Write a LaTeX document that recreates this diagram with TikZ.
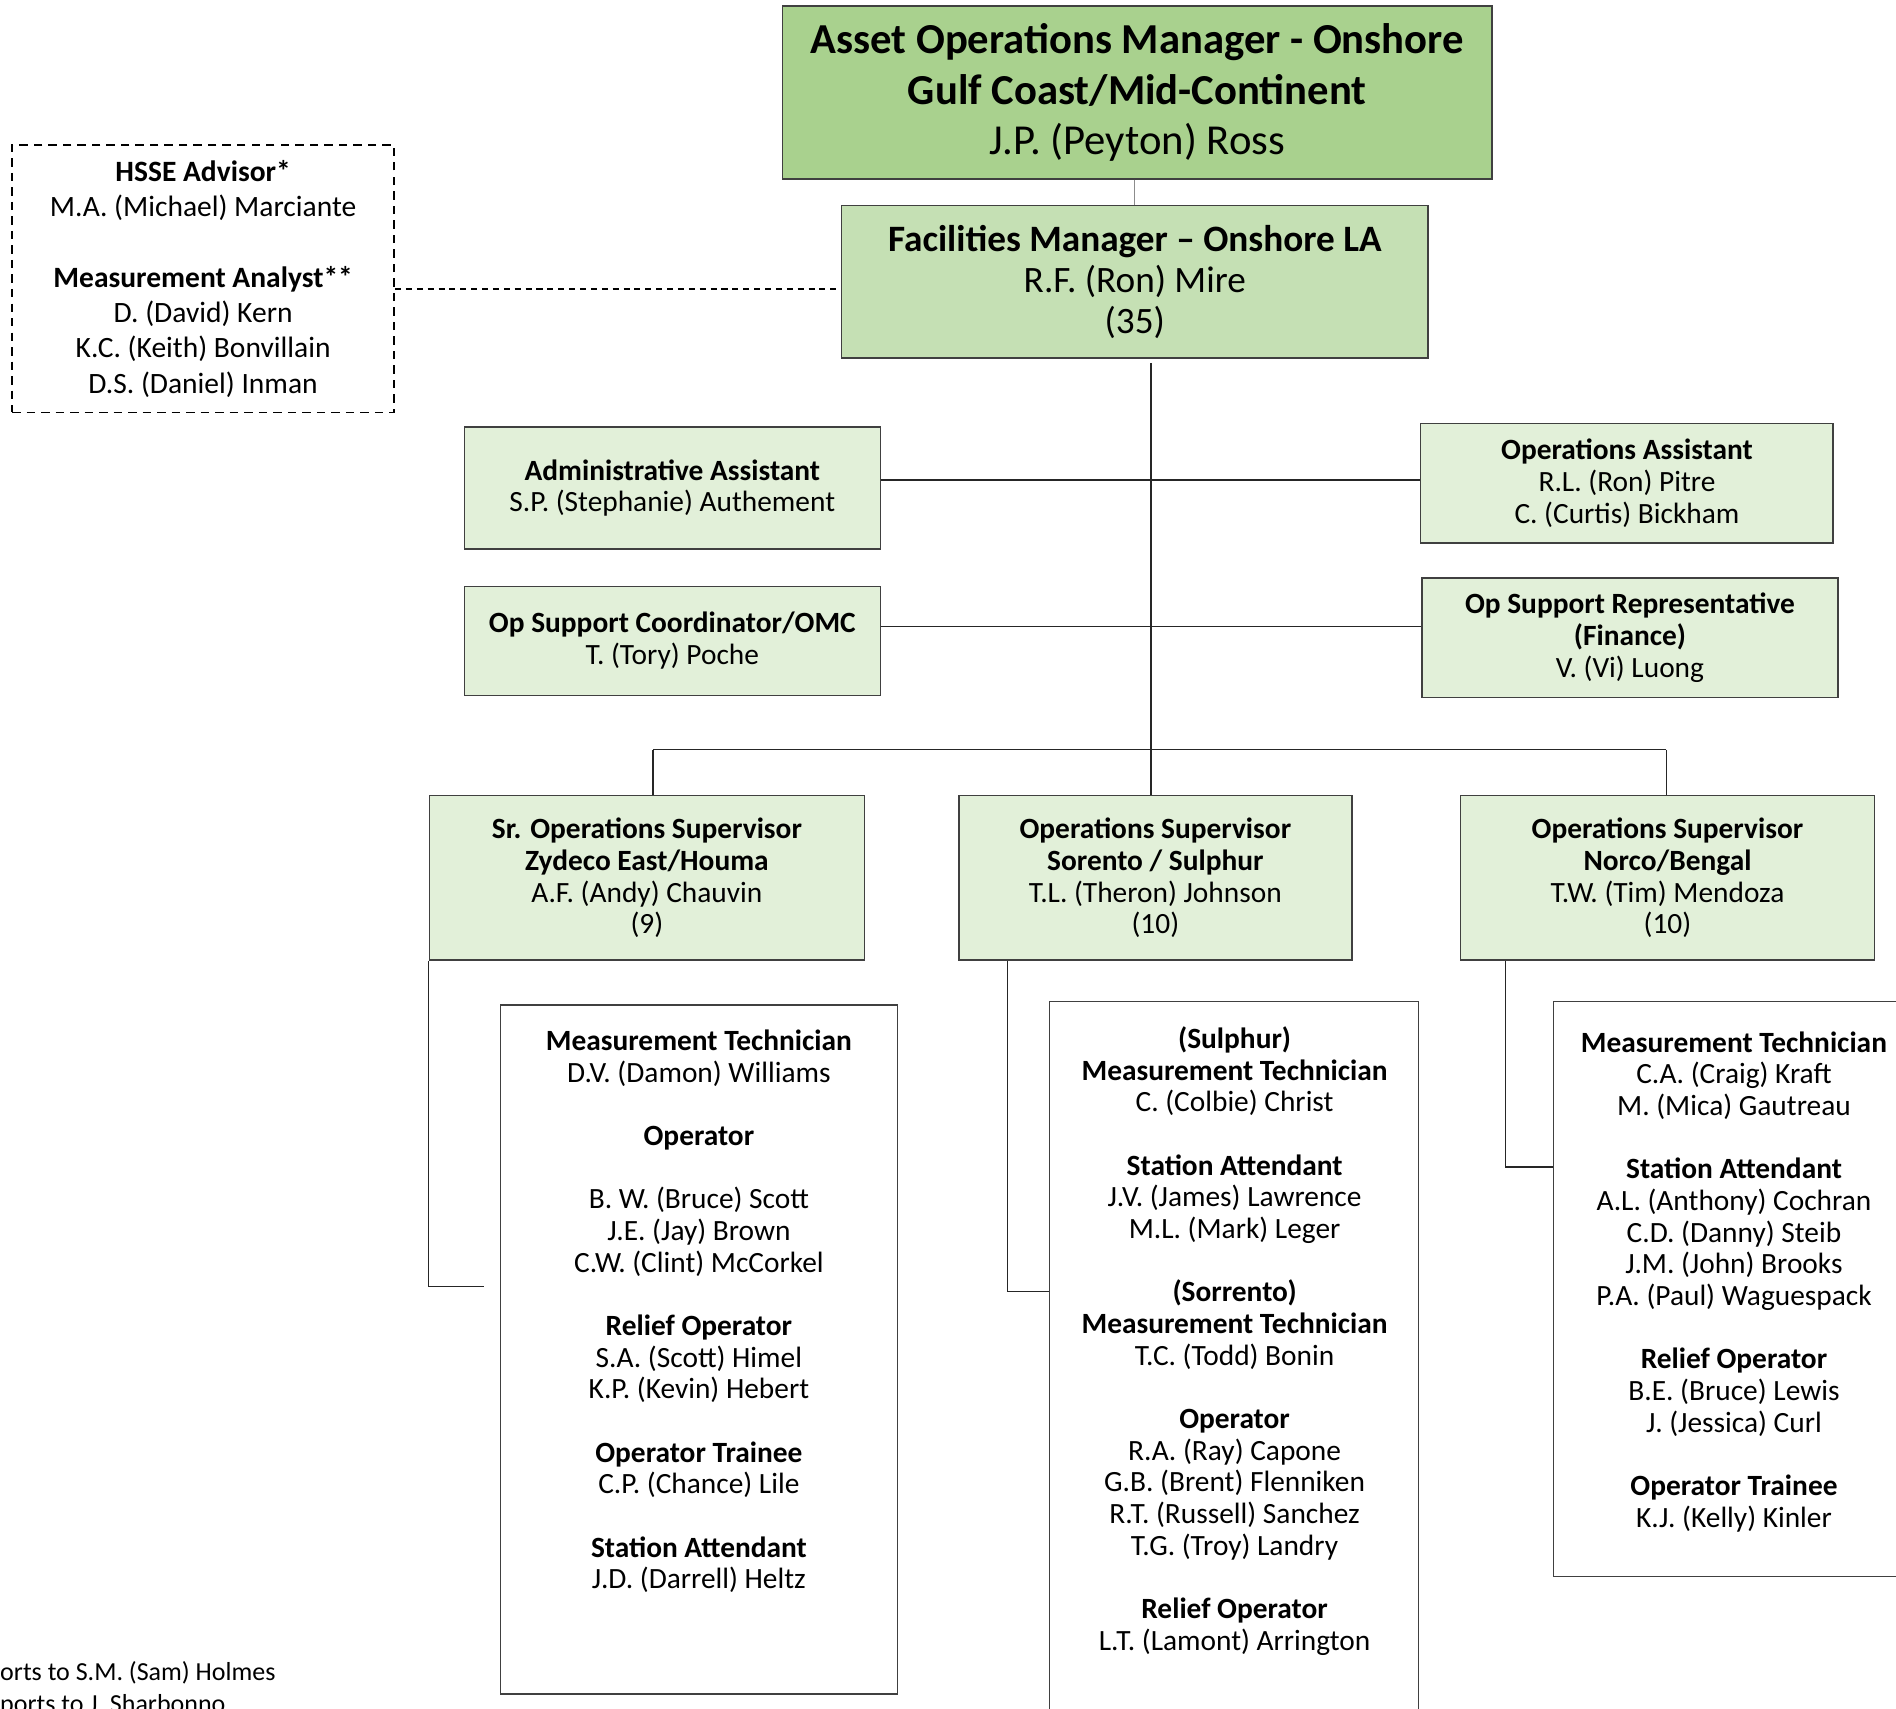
\documentclass[tikz,border=0pt]{standalone}
\usepackage{fontspec}
\setmainfont{Carlito}
\usetikzlibrary{calc}
\definecolor{gA}{HTML}{A9D18E}
\definecolor{gB}{HTML}{C5E0B4}
\definecolor{gC}{HTML}{E2F0D9}
\definecolor{bd}{HTML}{404040}
\definecolor{ln}{HTML}{262626}
\definecolor{lg}{HTML}{8C8C8C}
\newcommand{\fsBody}{\fontsize{24.3}{26.2}\selectfont}
\newcommand{\fsFoot}{\fontsize{21.5}{26.2}\selectfont}
\newcommand{\fsHsse}{\fontsize{24.4}{29.2}\selectfont}
\newcommand{\fsFm}{\fontsize{30.8}{34}\selectfont}
\newcommand{\fsAom}{\fontsize{35.3}{42}\selectfont}
\tikzset{
  box/.style={draw=bd, line width=1.1pt, inner sep=0pt, align=center},
  aombox/.style={box, fill=gA, font=\fsAom},
  fmbox/.style={box, fill=gB, font=\fsFm},
  lightbox/.style={box, fill=gC, font=\fsBody},
  teambox/.style={draw=bd, line width=1.1pt, fill=white, inner sep=0pt},
  dashbox/.style={draw=black, line width=1.3pt, dash pattern=on 7pt off 5pt, inner sep=0pt, align=center, font=\fsHsse},
  txt/.style={align=center, inner sep=0pt, font=\fsBody},
  conn/.style={draw=ln, line width=1.1pt},
  dconn/.style={draw=black, line width=1.1pt, dash pattern=on 5pt off 4pt},
}
\begin{document}
\begin{tikzpicture}[x=1pt,y=-1pt]
\useasboundingbox (0,0) rectangle (1568,1413);
\clip (0,0) rectangle (1568,1413);

% top
\node[aombox, minimum width=587pt, minimum height=143pt] (aom) at (940.5,76.5)
  {\textbf{Asset Operations Manager - Onshore}\\ \textbf{Gulf Coast/Mid-Continent}\\ J.P. (Peyton) Ross};
\node[fmbox, minimum width=485pt, minimum height=126pt] (fm) at (938.5,233)
  {\textbf{Facilities Manager – Onshore LA}\\ R.F. (Ron) Mire\\ (35)};
\node[dashbox, minimum width=316pt, minimum height=221pt] (hsse) at (168,230.5)
  {\textbf{HSSE Advisor*}\\ M.A. (Michael) Marciante\\[29.2pt] \textbf{Measurement Analyst**}\\ D. (David) Kern\\ K.C. (Keith) Bonvillain\\ D.S. (Daniel) Inman};

% staff
\node[lightbox, minimum width=344pt, minimum height=101pt] (admin) at (556,403.5)
  {\textbf{Administrative Assistant}\\ S.P. (Stephanie) Authement};
\node[lightbox, minimum width=341pt, minimum height=99pt] (opsa) at (1345.5,399.5)
  {\textbf{Operations Assistant}\\ R.L. (Ron) Pitre\\ C. (Curtis) Bickham};
\node[lightbox, minimum width=344pt, minimum height=90pt] (osc) at (556,530)
  {\textbf{Op Support Coordinator/OMC}\\ T. (Tory) Poche};
\node[lightbox, minimum width=344pt, minimum height=99pt] (osr) at (1348,527.5)
  {\textbf{Op Support Representative}\\ \textbf{(Finance)}\\ V. (Vi) Luong};

% supervisors
\node[lightbox, minimum width=360pt, minimum height=136pt] (sup1) at (535,726)
  {\textbf{Sr. Operations Supervisor}\\ \textbf{Zydeco East/Houma}\\ A.F. (Andy) Chauvin\\ (9)};
\node[lightbox, minimum width=325pt, minimum height=136pt] (sup2) at (955.5,726)
  {\textbf{Operations Supervisor}\\ \textbf{Sorento / Sulphur}\\ T.L. (Theron) Johnson\\ (10)};
\node[lightbox, minimum width=342pt, minimum height=136pt] (sup3) at (1379,726)
  {\textbf{Operations Supervisor}\\ \textbf{Norco/Bengal}\\ T.W. (Tim) Mendoza\\ (10)};

% teams
\node[teambox, minimum width=328pt, minimum height=570pt] (team1) at (578,1116) {};
\node[teambox, minimum width=305pt, minimum height=612pt] (team2) at (1020.5,1134) {};
\node[teambox, minimum width=315pt, minimum height=476pt] (team3) at (1442.5,1066) {};

\node[txt] (team1txt) at (578,1084.5)
  {\textbf{Measurement Technician}\\ D.V. (Damon) Williams\\[26.2pt]
   \textbf{Operator}\\[26.2pt]
   B. W. (Bruce) Scott\\ J.E. (Jay) Brown\\ C.W. (Clint) McCorkel\\[26.2pt]
   \textbf{Relief Operator}\\ S.A. (Scott) Himel\\ K.P. (Kevin) Hebert\\[26.2pt]
   \textbf{Operator Trainee}\\ C.P. (Chance) Lile\\[26.2pt]
   \textbf{Station Attendant}\\ J.D. (Darrell) Heltz};
\node[txt] (team2txt) at (1021,1109)
  {\textbf{(Sulphur)}\\ \textbf{Measurement Technician}\\ C. (Colbie) Christ\\[26.2pt]
   \textbf{Station Attendant}\\ J.V. (James) Lawrence\\ M.L. (Mark) Leger\\[26.2pt]
   \textbf{(Sorrento)}\\ \textbf{Measurement Technician}\\ T.C. (Todd) Bonin\\[26.2pt]
   \textbf{Operator}\\ R.A. (Ray) Capone\\ G.B. (Brent) Flenniken\\ R.T. (Russell) Sanchez\\ T.G. (Troy) Landry\\[26.2pt]
   \textbf{Relief Operator}\\ L.T. (Lamont) Arrington};
\node[txt] (team3txt) at (1434,1060)
  {\textbf{Measurement Technician}\\ C.A. (Craig) Kraft\\ M. (Mica) Gautreau\\[26.2pt]
   \textbf{Station Attendant}\\ A.L. (Anthony) Cochran\\ C.D. (Danny) Steib\\ J.M. (John) Brooks\\ P.A. (Paul) Waguespack\\[26.2pt]
   \textbf{Relief Operator}\\ B.E. (Bruce) Lewis\\ J. (Jessica) Curl\\[26.2pt]
   \textbf{Operator Trainee}\\ K.J. (Kelly) Kinler};

% footnotes (cut off at the edges, as in the source)
\node[anchor=base west, inner sep=0pt, font=\fsFoot] (fn1) at (0,1390) {orts to S.M. (Sam) Holmes};
\node[anchor=base west, inner sep=0pt, font=\fsFoot] (fn2) at (0,1416) {ports to J. Sharbonno};

% junction coordinates
\coordinate (dashy) at (0,239);
\coordinate (trunkTop) at (952,300);
\coordinate (row1y) at (0,397);
\coordinate (row2y) at (0,518);
\coordinate (barL) at (540,620);
\coordinate (barM) at (952,620);
\coordinate (barR) at (1378,620);
\coordinate (e1) at (400,1064);
\coordinate (x2) at (833,0);
\coordinate (y2) at (0,1068);
\coordinate (x3) at (1245,0);
\coordinate (y3) at (0,965);

% connectors
\draw[draw=lg, line width=1.1pt] (aom.south -| fm.north) -- (fm.north);
\draw[dconn] (hsse.east |- dashy) -- (fm.west |- dashy);
\draw[conn] (trunkTop) -- (barM);
\draw[conn] (admin.east |- row1y) -- (opsa.west |- row1y);
\draw[conn] (osc.east |- row2y) -- (osr.west |- row2y);
\draw[conn] (barL) -- (barR);
\draw[conn] (barL) -- (sup1.north -| barL);
\draw[conn] (barM) -- (sup2.north -| barM);
\draw[conn] (barR) -- (sup3.north -| barR);
\draw[conn] (sup1.south west) |- (e1);
\draw[conn] (sup2.south -| x2) |- (team2.west |- y2);
\draw[conn] (sup3.south -| x3) |- (team3.west |- y3);
\end{tikzpicture}
\end{document}
